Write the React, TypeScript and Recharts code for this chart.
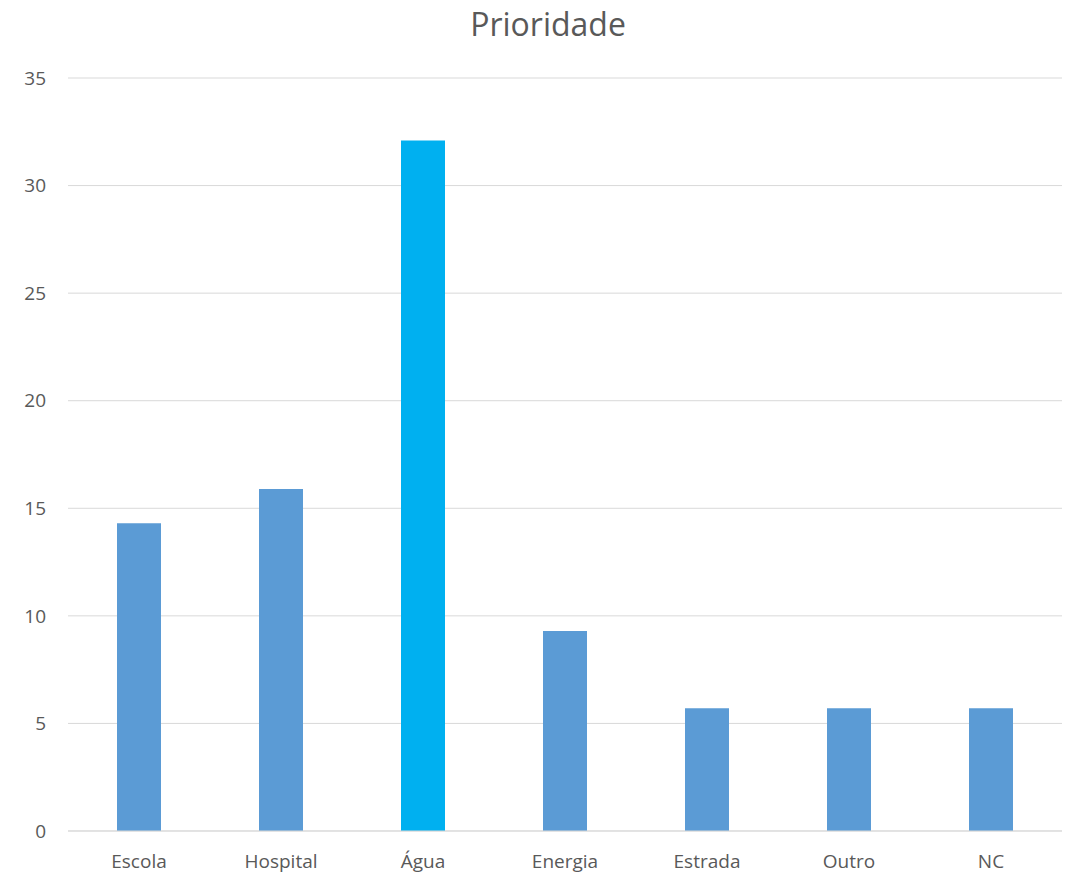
import React from 'react';
import { BarChart, Bar, XAxis, YAxis, CartesianGrid, Cell } from 'recharts';

const categories = ['Escola', 'Hospital', 'Água', 'Energia', 'Estrada', 'Outro', 'NC'];
const values = [14.3, 15.9, 32.1, 9.3, 5.7, 5.7, 5.7];
const colors = ['#5B9BD5', '#5B9BD5', '#00B0F0', '#5B9BD5', '#5B9BD5', '#5B9BD5', '#5B9BD5'];
const yTicks = [0, 5, 10, 15, 20, 25, 30, 35];

const data = categories.map((c, i) => ({ name: c, value: values[i] }));

export default function App() {
  const font = '"Open Sans", sans-serif';
  return (
    <div style={{ position: 'absolute', left: 0, top: 0, width: 1076, height: 879, background: '#fff', fontFamily: font }}>
      <div style={{ position: 'absolute', left: 0, top: 0, width: 1096, textAlign: 'center', fontSize: 32, color: '#595959', lineHeight: '48px' }}>
        Prioridade
      </div>
      <BarChart width={1076} height={879} data={data} margin={{ top: 78, right: 14, bottom: 0, left: 0 }} barSize={44}>
        <CartesianGrid vertical={false} stroke="#D9D9D9" strokeWidth={1} />
        <XAxis
          dataKey="name"
          height={48}
          axisLine={{ stroke: '#D9D9D9' }}
          tickLine={false}
          tickSize={0}
          tickMargin={24}
          tick={{ fill: '#595959', fontSize: 19, fontFamily: font }}
        />
        <YAxis
          width={68}
          domain={[0, 35]}
          ticks={yTicks}
          axisLine={false}
          tickLine={false}
          tickSize={0}
          tickMargin={22}
          tick={{ fill: '#595959', fontSize: 19, fontFamily: font }}
        />
        <Bar dataKey="value" isAnimationActive={false}>
          {data.map((d, i) => (
            <Cell key={d.name} fill={colors[i]} />
          ))}
        </Bar>
      </BarChart>
    </div>
  );
}
